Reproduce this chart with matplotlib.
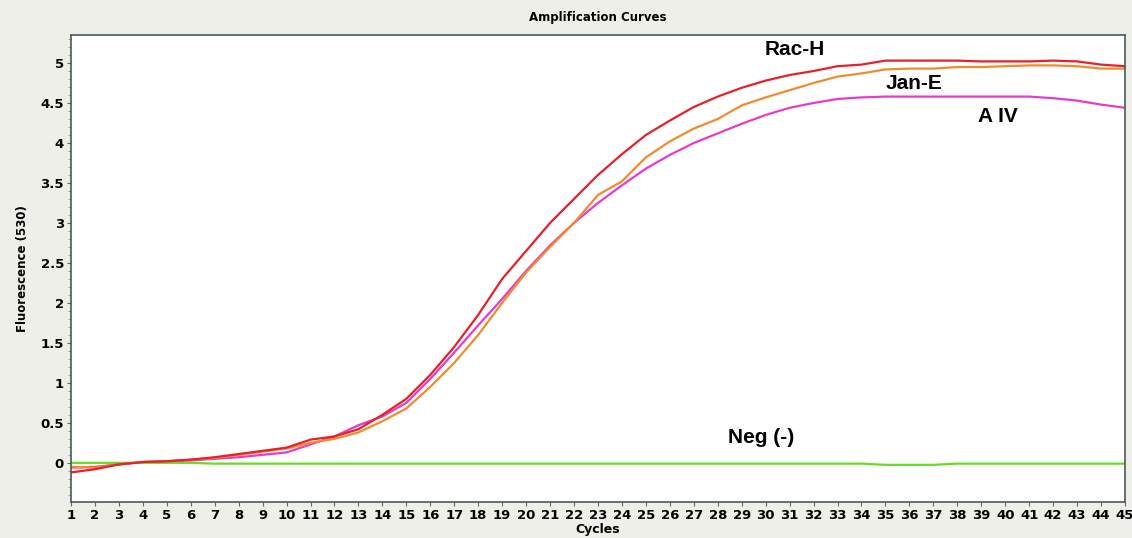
import numpy as np
import matplotlib.pyplot as plt
from matplotlib.ticker import MultipleLocator

# cycles and fluorescence readings
cycles = list(range(1, 46))
rac_h = [-0.12, -0.08, -0.02, 0.01, 0.02, 0.04, 0.07, 0.11, 0.15, 0.19,
         0.29, 0.33, 0.42, 0.60, 0.80, 1.10, 1.45, 1.85, 2.30, 2.65,
         3.00, 3.30, 3.60, 3.86, 4.10, 4.28, 4.45, 4.58, 4.69, 4.78,
         4.85, 4.90, 4.96, 4.98, 5.03, 5.03, 5.03, 5.03, 5.02, 5.02,
         5.02, 5.03, 5.02, 4.98, 4.96]
jan_e = [-0.05, -0.06, -0.02, 0.01, 0.02, 0.04, 0.06, 0.10, 0.14, 0.18,
         0.25, 0.30, 0.38, 0.52, 0.68, 0.95, 1.25, 1.60, 2.00, 2.38,
         2.70, 3.00, 3.35, 3.52, 3.82, 4.02, 4.18, 4.30, 4.47, 4.57,
         4.66, 4.75, 4.83, 4.87, 4.92, 4.93, 4.93, 4.95, 4.95, 4.96,
         4.97, 4.97, 4.96, 4.93, 4.93]
a_iv = [-0.06, -0.05, -0.02, 0.01, 0.02, 0.03, 0.05, 0.07, 0.10, 0.13,
        0.23, 0.33, 0.47, 0.58, 0.75, 1.05, 1.38, 1.72, 2.05, 2.40,
        2.72, 3.00, 3.25, 3.47, 3.68, 3.85, 4.00, 4.12, 4.24, 4.35,
        4.44, 4.50, 4.55, 4.57, 4.58, 4.58, 4.58, 4.58, 4.58, 4.58,
        4.58, 4.56, 4.53, 4.48, 4.44]
neg = [0.0, 0.0, 0.0, 0.0, 0.0, 0.0, -0.01, -0.01, -0.01, -0.01,
       -0.01, -0.01, -0.01, -0.01, -0.01, -0.01, -0.01, -0.01, -0.01, -0.01,
       -0.01, -0.01, -0.01, -0.01, -0.01, -0.01, -0.01, -0.01, -0.01, -0.01,
       -0.01, -0.01, -0.01, -0.01, -0.025, -0.025, -0.025, -0.01, -0.01, -0.01,
       -0.01, -0.01, -0.01, -0.01, -0.01]

bg = '#efefea'
fig = plt.figure(figsize=(11.32, 5.38), dpi=100, facecolor=bg)
ax = fig.add_axes([0.0627, 0.0669, 0.9311, 0.868])
ax.set_facecolor('white')

ax.plot(cycles, neg, color='#66dd22', lw=1.6)
ax.plot(cycles, a_iv, color='#e83cc8', lw=1.6)
ax.plot(cycles, jan_e, color='#f28a2e', lw=1.6)
ax.plot(cycles, rac_h, color='#e8202a', lw=1.6)

ax.set_xlim(1, 45)
ax.set_ylim(-0.49, 5.35)
ax.set_xticks(cycles)
ax.yaxis.set_major_locator(MultipleLocator(0.5))
ax.yaxis.set_minor_locator(MultipleLocator(0.1))
ax.set_yticks([0, 0.5, 1, 1.5, 2, 2.5, 3, 3.5, 4, 4.5, 5])
ax.set_yticklabels(['0', '0.5', '1', '1.5', '2', '2.5', '3', '3.5', '4', '4.5', '5'])
ax.tick_params(axis='both', labelsize=9.5, length=3, color='#666666', pad=2)
ax.tick_params(axis='y', which='minor', length=2, color='#888888')
for lab in ax.get_xticklabels() + ax.get_yticklabels():
    lab.set_fontweight('bold')
for s in ax.spines.values():
    s.set_color('#4a5a5a')
    s.set_linewidth(1.2)

ax.set_title('Amplification Curves', fontsize=8.5, fontweight='bold', pad=10)
ax.set_xlabel('Cycles', fontsize=9, fontweight='bold', labelpad=1)
ax.set_ylabel('Fluorescence (530)', fontsize=8.5, fontweight='bold', labelpad=8)

lab_font = dict(fontsize=15, fontweight='bold', family='Liberation Sans', ha='center', va='center')
ax.text(31.2, 5.17, 'Rac-H', **lab_font)
ax.text(36.2, 4.75, 'Jan-E', **lab_font)
ax.text(39.7, 4.33, 'A IV', **lab_font)
ax.text(29.8, 0.32, 'Neg (-)', **lab_font)

fig.savefig('out.png', dpi=100, facecolor=bg)
